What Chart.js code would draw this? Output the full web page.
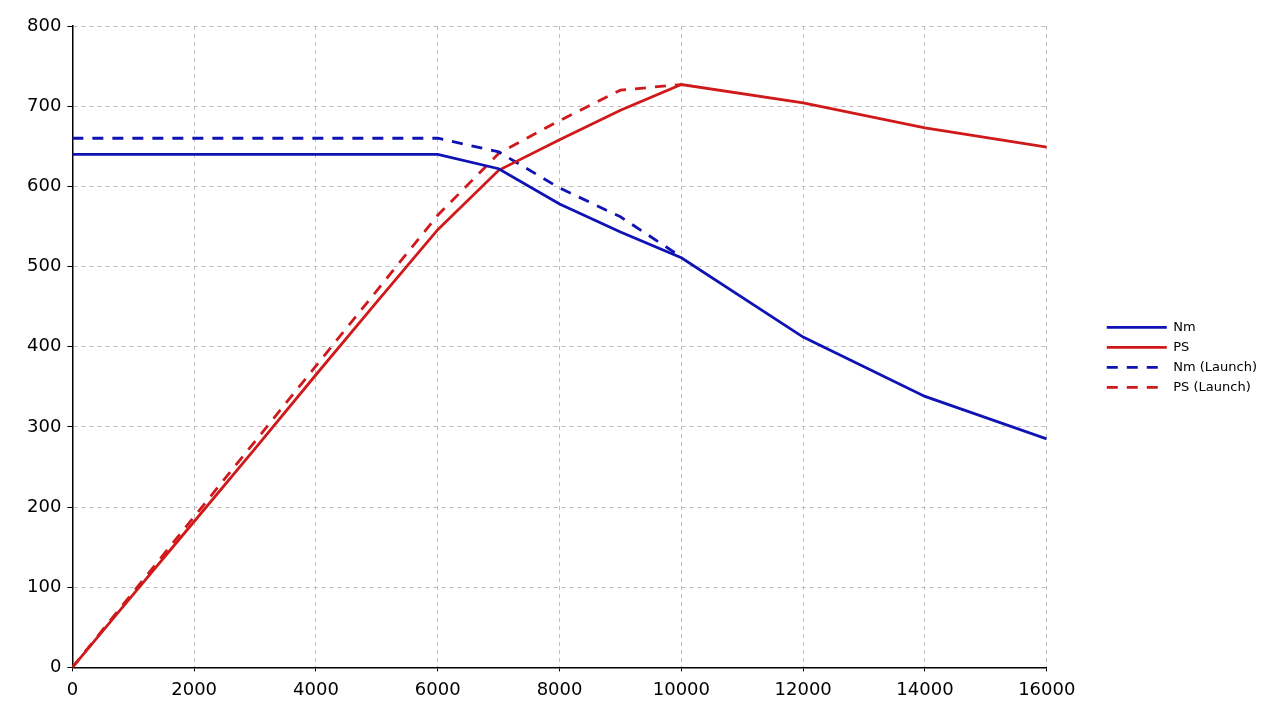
<!DOCTYPE html>
<html>
<head>
<meta charset="utf-8">
<script src="https://cdn.jsdelivr.net/npm/chart.js@4/dist/chart.umd.min.js"></script>
<style>
  html, body { margin: 0; padding: 0; background: #fff; }
  #wrap { width: 1269px; height: 714px; }
</style>
</head>
<body>
<div id="wrap"><canvas id="chart" width="1269" height="714"></canvas></div>
<script>
var rpm = [0, 1000, 2000, 3000, 4000, 5000, 6000, 7000, 8000, 9000, 10000, 12000, 14000, 16000];
var nm = [640, 640, 640, 640, 640, 640, 640, 622, 578, 543, 511, 412, 338, 285];
var ps = [0, 91, 182, 273, 365, 456, 546, 620, 658, 695, 727, 704, 673, 649];
var rpmLaunch = [0, 1000, 2000, 3000, 4000, 5000, 6000, 7000, 8000, 9000, 10000];
var nmLaunch = [660, 660, 660, 660, 660, 660, 660, 643, 598, 562, 512];
var psLaunch = [0, 94, 188, 282, 376, 470, 564, 641, 682, 720, 727];

function pts(xs, ys) {
    return xs.map(function(x, i) { return { x: x, y: ys[i] }; });
}

var blue = '#0f12b4';
var red = '#d0191b';
var dash = [11, 9];

window.onload = function() {
    var ctx = document.getElementById('chart').getContext('2d');
    Chart.defaults.font.family = 'DejaVu Sans';
    new Chart(ctx, {
        type: 'line',
        data: {
            datasets: [
                { label: 'Nm', data: pts(rpm, nm), borderColor: blue, backgroundColor: blue, borderWidth: 2.8, pointRadius: 0 },
                { label: 'PS', data: pts(rpm, ps), borderColor: red, backgroundColor: red, borderWidth: 2.8, pointRadius: 0 },
                { label: 'Nm (Launch)', data: pts(rpmLaunch, nmLaunch), borderColor: blue, backgroundColor: blue, borderWidth: 2.8, borderDash: dash, pointRadius: 0 },
                { label: 'PS (Launch)', data: pts(rpmLaunch, psLaunch), borderColor: red, backgroundColor: red, borderWidth: 2.8, borderDash: dash, pointRadius: 0 }
            ]
        },
        options: {
            responsive: false,
            animation: false,
            layout: { padding: { top: 26, right: 2, left: 21, bottom: 5 } },
            plugins: {
                legend: {
                    position: 'right',
                    align: 'center',
                    fullSize: false,
                    title: { display: true, text: ' ', padding: 10, font: { size: 1 } },
                    labels: {
                        usePointStyle: true,
                        pointStyle: 'line',
                        pointStyleWidth: 60,
                        padding: 7,
                        color: '#000',
                        font: { size: 13 },
                        generateLabels: function(chart) {
                            var items = Chart.defaults.plugins.legend.labels.generateLabels(chart);
                            items.forEach(function(it) {
                                var ds = chart.data.datasets[it.datasetIndex];
                                it.pointStyle = 'line';
                                it.lineWidth = 2.8;
                                it.strokeStyle = ds.borderColor;
                                it.lineDash = ds.borderDash || [];
                            });
                            return items;
                        }
                    }
                },
                tooltip: { enabled: false }
            },
            scales: {
                x: {
                    type: 'linear',
                    min: 0,
                    max: 16000,
                    ticks: { stepSize: 2000, color: '#000', font: { size: 18 }, padding: 8, maxRotation: 0,
                        callback: function(v) { return String(v); } },
                    grid: { color: '#bdbdbd', tickLength: 4, tickColor: '#000', tickBorderDash: [] },
                    border: { color: '#000', width: 1.5, dash: [4, 4] }
                },
                y: {
                    min: 0,
                    max: 800,
                    ticks: { stepSize: 100, color: '#000', font: { size: 18 }, padding: 6,
                        callback: function(v) { return String(v); } },
                    grid: { color: '#bdbdbd', tickLength: 5, tickColor: '#000', tickBorderDash: [] },
                    border: { color: '#000', width: 1.5, dash: [4, 4] }
                },
                gap: {
                    type: 'linear',
                    position: 'right',
                    display: true,
                    ticks: { display: false },
                    grid: { display: false, drawOnChartArea: false },
                    border: { display: false },
                    afterFit: function(scale) { scale.width = 53; }
                }
            }
        }
    });
};
</script>
</body>
</html>
